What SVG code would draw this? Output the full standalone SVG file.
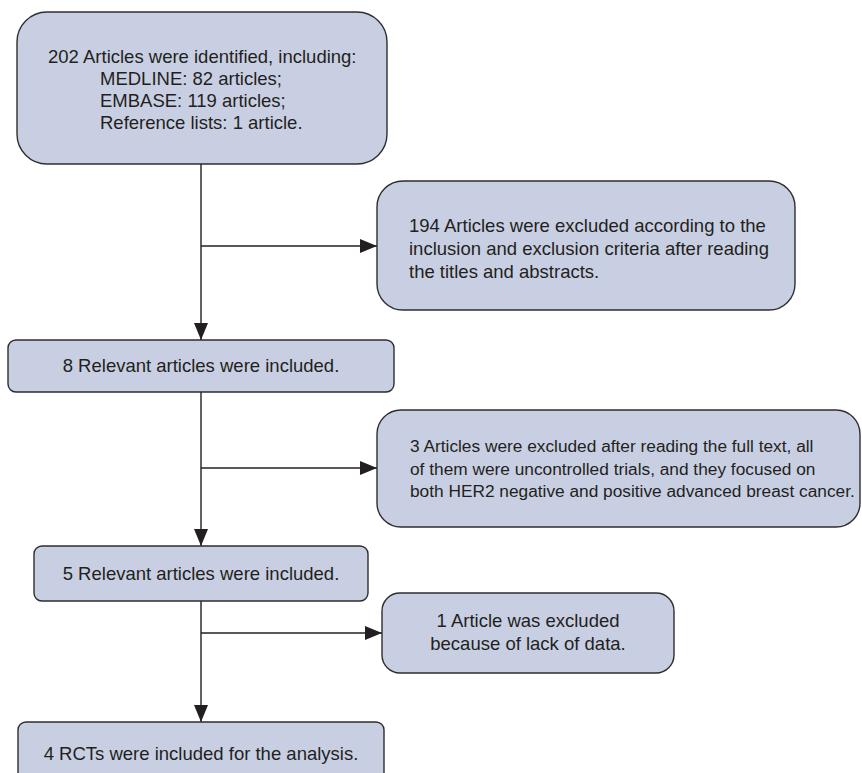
<svg xmlns="http://www.w3.org/2000/svg" width="862" height="773" viewBox="0 0 862 773">
<style>
.box{fill:#c9cfe3;stroke:#2e2e2e;stroke-width:1.4}
.t{font-family:"Liberation Sans",Arial,sans-serif;font-size:18.5px;fill:#231f20}
.s{font-size:17.3px}
.c{text-anchor:middle}
.ln{stroke:#231f20;stroke-width:1.4;fill:none}
</style>
<defs>
<marker id="ah" viewBox="0 0 17 14" refX="17" refY="7" markerWidth="17" markerHeight="14" markerUnits="userSpaceOnUse" orient="auto">
<path d="M0,0 L17,7 L0,14 z" fill="#231f20"/>
</marker>
</defs>
<rect width="862" height="773" fill="#ffffff"/>
<g id="connectors">
<line class="ln" x1="201" y1="164" x2="201" y2="340" marker-end="url(#ah)"/>
<line class="ln" x1="201" y1="246" x2="377" y2="246" marker-end="url(#ah)"/>
<line class="ln" x1="201" y1="392" x2="201" y2="546" marker-end="url(#ah)"/>
<line class="ln" x1="201" y1="468" x2="377" y2="468" marker-end="url(#ah)"/>
<line class="ln" x1="201" y1="601" x2="201" y2="722" marker-end="url(#ah)"/>
<line class="ln" x1="201" y1="633" x2="382" y2="633" marker-end="url(#ah)"/>
</g>
<g id="n1">
<rect class="box" x="17" y="12" width="370" height="152" rx="30"/>
<text class="t" x="48" y="63">202 Articles were identified, including:</text>
<text class="t" x="100" y="85">MEDLINE: 82 articles;</text>
<text class="t" x="100" y="107">EMBASE: 119 articles;</text>
<text class="t" x="100" y="129">Reference lists: 1 article.</text>
</g>
<g id="n2">
<rect class="box" x="377" y="181" width="418" height="129" rx="26"/>
<text class="t" x="409" y="232">194 Articles were excluded according to the</text>
<text class="t" x="409" y="255">inclusion and exclusion criteria after reading</text>
<text class="t" x="409" y="278">the titles and abstracts.</text>
</g>
<g id="n3">
<rect class="box" x="8" y="340" width="386" height="52" rx="8"/>
<text class="t c" x="201" y="372">8 Relevant articles were included.</text>
</g>
<g id="n4">
<rect class="box" x="377" y="410" width="483" height="117" rx="24"/>
<text class="t s" x="410" y="452">3 Articles were excluded after reading the full text, all</text>
<text class="t s" x="410" y="474.5">of them were uncontrolled trials, and they focused on</text>
<text class="t s" x="410" y="497">both HER2 negative and positive advanced breast cancer.</text>
</g>
<g id="n5">
<rect class="box" x="34" y="546" width="334" height="55" rx="8"/>
<text class="t c" x="201" y="580">5 Relevant articles were included.</text>
</g>
<g id="n6">
<rect class="box" x="382" y="593" width="292" height="80" rx="18"/>
<text class="t c" x="528" y="627">1 Article was excluded</text>
<text class="t c" x="528" y="650">because of lack of data.</text>
</g>
<g id="n7">
<rect class="box" x="18" y="722" width="366" height="60" rx="8"/>
<text class="t c" x="201" y="760">4 RCTs were included for the analysis.</text>
</g>
</svg>
